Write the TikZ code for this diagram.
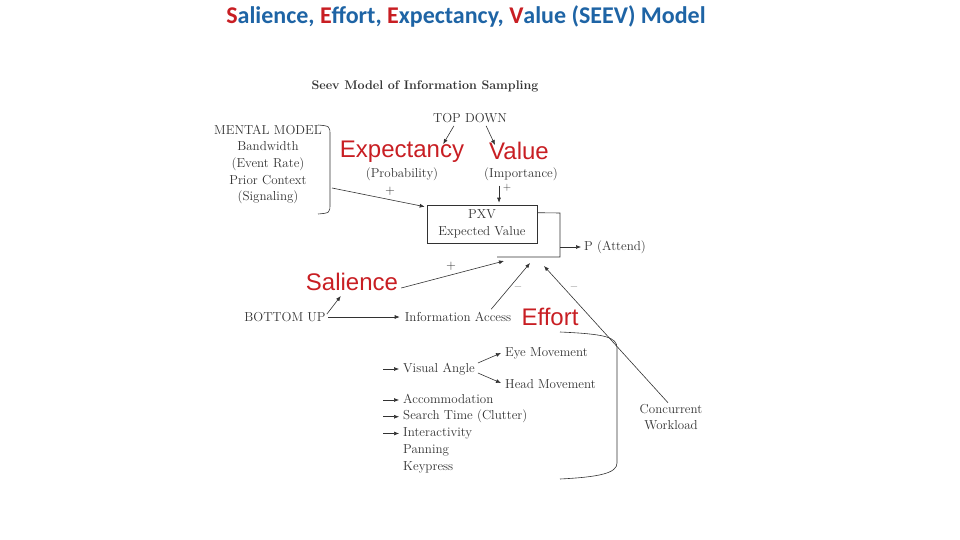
\documentclass[tikz,border=0pt]{standalone}
\usepackage{fontspec}
\newfontfamily\titlefont{Carlito}
\newfontfamily\bigfont{Liberation Sans}
\usetikzlibrary{arrows.meta}
\usetikzlibrary{positioning}
\usetikzlibrary{calc}

\definecolor{seevred}{RGB}{200,30,35}
\definecolor{seevblue}{RGB}{30,100,165}
\definecolor{ink}{RGB}{50,50,50}

\begin{document}
\begin{tikzpicture}[x=1pt, y=-1pt,
    every node/.style={inner sep=0pt, text=ink, font=\fontsize{13}{16.7}\selectfont},
    big/.style={text=seevred, font=\bigfont\fontsize{24}{28}\selectfont},
    item/.style={anchor=west, text height=9pt, text depth=3pt},
    arr/.style={draw=ink, line width=0.6pt, -{Latex[length=5pt,width=4pt]}},
    brace/.style={draw=ink, line width=0.6pt}]

        \useasboundingbox (0,0) rectangle (960,540);

        \node[text=seevblue, font=\titlefont\bfseries\fontsize{24}{28}\selectfont] (title) at (466,16)
          {\textcolor{seevred}{S}alience, \textcolor{seevred}{E}ffort, \textcolor{seevred}{E}xpectancy, \textcolor{seevred}{V}alue (SEEV) Model};

        \node[font=\bfseries\fontsize{12.5}{15}\selectfont] (sub) at (425,86) {Seev Model of Information Sampling};

        % top down part
        \node (top) at (470,118) {TOP DOWN};
        \node[big] (exp) at (402,152) {Expectancy};
        \node[big] (val) at (519,151) {Value};
        \node (prob) at (402,174) {(Probability)};
        \node (imp) at (521,174) {(Importance)};

        \draw[arr] ($(top.south west)+(21,3)$) -- ($(exp.north east)+(-21,3)$);
        \draw[arr] ($(top.south east)+(-21,3)$) -- ($(val.north west)+(6,3)$);

        \node[align=center] (mental) at (268,164.5) {MENTAL MODEL\\Bandwidth\\(Event Rate)\\Prior Context\\(Signaling)};
        \draw[brace] (318,125) .. controls (330,126) .. (330,136) -- (330,203) .. controls (330,213) .. (318,214);
        \coordinate (mm) at (332,188);

        \node[draw=ink, line width=0.6pt, minimum width=110pt, minimum height=38pt, align=center] (pxv) at (482,224) {PXV\\Expected Value};

        \draw[arr] (mm) -- ($(pxv.north west)+(-2,2)$);
        \node (p1) at (390,191) {+};
        \draw[arr] ($(imp.south)+(-22,5)$) -- ($(pxv.north)+(17,-2)$);
        \node[font=\fontsize{11}{13}\selectfont] (p2) at (507,188) {+};

        % summing bracket
        \coordinate (sumtop) at (560,213);
        \coordinate (sumbot) at (560,257);
        \coordinate (sumleft) at (497,257);
        \draw[brace] ($(pxv.north east)+(0,8)$) -- (sumtop) -- (sumbot) -- (sumleft);

        \node[anchor=west] (attend) at (584,247) {P (Attend)};
        \draw[arr] (sumbot |- attend.west) -- ($(attend.west)+(-3,0)$);

        \coordinate (in1) at (504,261);
        \coordinate (in2) at (530,263);
        \coordinate (in3) at (544,266);

        % bottom up part
        \node[big] (sal) at (352,282) {Salience};
        \node (bu) at (285,317) {BOTTOM UP};
        \node (info) at (458,317) {Information Access};
        \node[big] (eff) at (550,317) {Effort};

        \draw[arr] ($(sal.east)+(3,6)$) -- (in1);
        \node (p3) at (451,266) {+};
        \draw[arr] (bu.east) ++(2,0) -- ($(info.west)+(-5,0)$);
        \draw[arr] ($(bu.north east)+(1,2)$) -- ($(sal.south west)+(35,5)$);
        \draw[arr] ($(info.north east)+(-20,-3)$) -- (in2);
        \node (m1) at (518,289) {--};

        \node[align=center] (work) at (671,417) {Concurrent\\Workload};
        \draw[arr] ($(work.north)+(-3,-1)$) -- (in3);
        \node (m2) at (574,289) {--};

        % effort items
        \node[item] (va) at (403,369) {Visual Angle};
        \node[item] (eye) at (505,353) {Eye Movement};
        \node[item] (head) at (505,385) {Head Movement};
        \draw[arr] ($(va.east)+(3,-6)$) -- ($(eye.west)+(-4,0)$);
        \draw[arr] ($(va.east)+(3,4)$) -- ($(head.west)+(-4,-2)$);

        \foreach \n/\t [count=\i] in {acc/Accommodation, search/Search Time (Clutter), inter/Interactivity, pan/Panning, key/Keypress} {
          \node[item] (\n) at (403, {400+16.75*(\i-1)}) {\t};
        }

        \foreach \n in {va,acc,search,inter} {
          \draw[arr] ($(\n.west)+(-20,0)$) -- ($(\n.west)+(-4,0)$);
        }

        \draw[brace] (560,332) .. controls (605,334) and (617,337) .. (617,348) -- (617,463) .. controls (617,473) and (600,477) .. (560,479);

      \end{tikzpicture}
\end{document}
